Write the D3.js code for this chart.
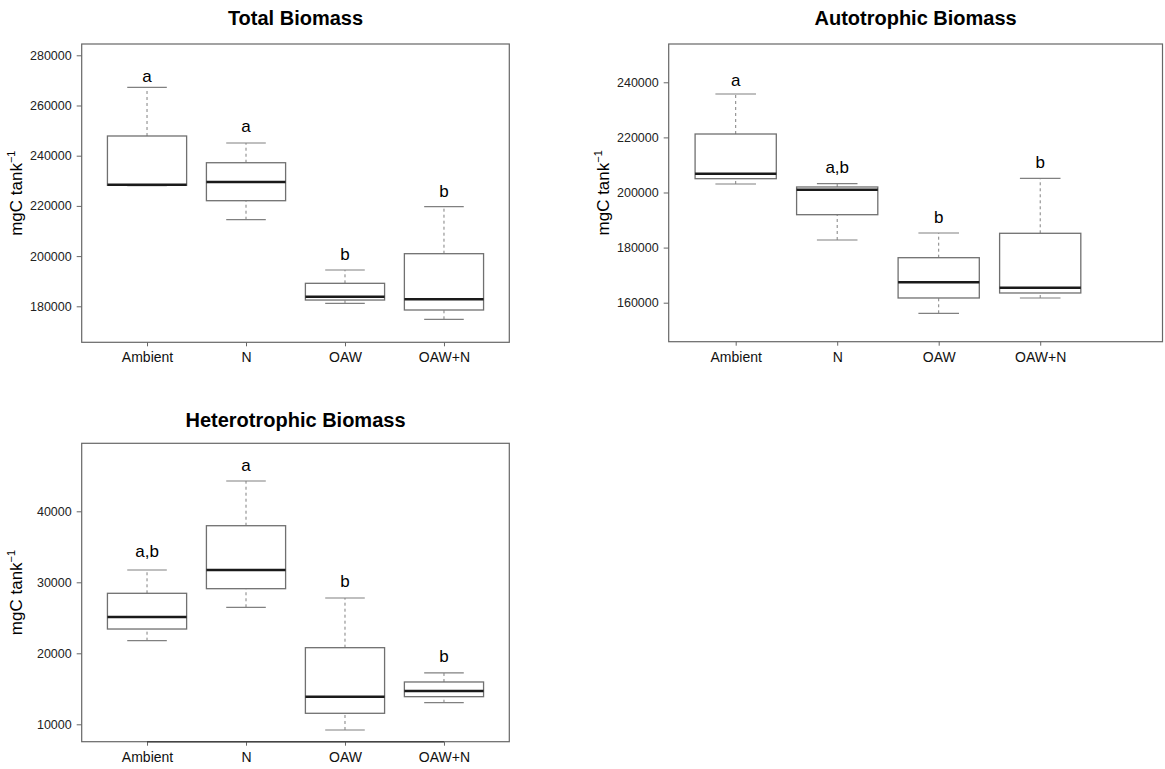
<!DOCTYPE html>
<html>
<head>
<meta charset="utf-8">
<script src="https://cdn.jsdelivr.net/npm/d3@7"></script>
<style>
  html, body { margin: 0; padding: 0; background: #fff; }
  svg { display: block; font-family: "Liberation Sans", Arial, Helvetica, sans-serif; }
</style>
</head>
<body>
<svg id="chart" width="1165" height="769"></svg>
<script>
// ---------------- DATA ----------------
const categories = ["Ambient", "N", "OAW", "OAW+N"];

// each row: [min, q1, median, q3, max]
const totalBiomass = [
  [228100, 228200, 228450, 247850, 267250],
  [214500, 222070, 229520, 237200, 245060],
  [181170, 182500, 183830, 189160, 194460],
  [174820, 178530, 182790, 200960, 219680]
];
const autotrophicBiomass = [
  [203090, 205010, 206820, 221230, 235750],
  [182760, 191940, 201020, 202000, 203190],
  [156150, 161710, 167400, 176330, 185300],
  [161710, 163520, 165450, 185190, 205150]
];
const heterotrophicBiomass = [
  [21780, 23420, 25110, 28450, 31730],
  [26480, 29100, 31730, 37970, 44270],
  [9200, 11550, 13890, 20790, 27790],
  [13040, 13890, 14690, 15960, 17230]
];

const totalLetters = ["a", "a", "b", "b"];
const totalLetterY = [269500, 249300, 198500, 223700];
const autoLetters = ["a", "a,b", "b", "b"];
const autoLetterY = [238800, 207200, 188800, 209000];
const heteroLetters = ["a,b", "a", "b", "b"];
const heteroLetterY = [33600, 45680, 29300, 18730];

const totalTicks = [180000, 200000, 220000, 240000, 260000, 280000];
const autoTicks = [160000, 180000, 200000, 220000, 240000];
const heteroTicks = [10000, 20000, 30000, 40000];

// ---------------- DRAW ----------------
const svg = d3.select("#chart");

const panels = [
  { title: "Total Biomass", data: totalBiomass, letters: totalLetters, letterY: totalLetterY,
    ticks: totalTicks, ydom: [165660, 284500],
    left: 81.7, right: 509.3, top: 44, bottom: 342.3, xRight: 509.3, titleY: 25, axisLine: false },
  { title: "Autotrophic Biomass", data: autotrophicBiomass, letters: autoLetters, letterY: autoLetterY,
    ticks: autoTicks, ydom: [145840, 253900],
    left: 668.7, right: 1162.5, top: 44, bottom: 341.7, xRight: 1107.2, titleY: 25, axisLine: false },
  { title: "Heterotrophic Biomass", data: heterotrophicBiomass, letters: heteroLetters, letterY: heteroLetterY,
    ticks: heteroTicks, ydom: [7549, 49577],
    left: 81.7, right: 509.3, top: 443.3, bottom: 741.7, xRight: 509.3, titleY: 427, axisLine: true }
];

const frameColor = "#666";
const boxColor = "#707070";
const whiskColor = "#808080";

panels.forEach(p => {
  const g = svg.append("g");
  const x = d3.scaleLinear().domain([0.34, 4.66]).range([p.left, p.xRight]);
  const y = d3.scaleLinear().domain(p.ydom).range([p.bottom, p.top]);
  const unit = x(2) - x(1);
  const bw = unit * 0.8, cw = unit * 0.4;

  // frame
  g.append("rect")
    .attr("x", p.left).attr("y", p.top)
    .attr("width", p.right - p.left).attr("height", p.bottom - p.top)
    .attr("fill", "none").attr("stroke", frameColor).attr("stroke-width", 1.2);

  // title
  g.append("text")
    .attr("x", (p.left + p.right) / 2).attr("y", p.titleY)
    .attr("text-anchor", "middle").attr("font-size", 20).attr("font-weight", "bold")
    .attr("fill", "#000").text(p.title);

  // y axis
  const yAxis = d3.axisLeft(y).tickValues(p.ticks).tickSize(5).tickPadding(5).tickFormat(d3.format("d"));
  const ya = g.append("g").attr("transform", `translate(${p.left},0)`).call(yAxis);
  ya.select(".domain").remove();
  ya.selectAll(".tick line").attr("stroke", frameColor);
  ya.selectAll(".tick text").attr("font-size", 12.5).attr("fill", "#222")
    .attr("font-family", "Liberation Sans, Arial, sans-serif");

  // y label
  const lx = p.left - 60, ly = (p.top + p.bottom) / 2;
  const lab = g.append("text")
    .attr("transform", `translate(${lx},${ly}) rotate(-90)`)
    .attr("text-anchor", "middle").attr("font-size", 17).attr("fill", "#000");
  lab.append("tspan").text("mgC tank");
  lab.append("tspan").attr("font-size", 11).attr("dy", -7).text("\u22121");

  // x axis
  const xAxis = d3.axisBottom(x).tickValues([1, 2, 3, 4]).tickSize(4).tickPadding(6)
    .tickFormat((d, i) => categories[i]);
  const xa = g.append("g").attr("transform", `translate(0,${p.bottom})`).call(xAxis);
  xa.select(".domain").remove();
  xa.selectAll(".tick line").attr("stroke", frameColor);
  xa.selectAll(".tick text").attr("font-size", 14).attr("fill", "#111")
    .attr("font-family", "Liberation Sans, Arial, sans-serif");
  if (p.axisLine) {
    g.append("line").attr("x1", x(1)).attr("x2", x(4))
      .attr("y1", p.bottom).attr("y2", p.bottom)
      .attr("stroke", "#444").attr("stroke-width", 1.4);
  }

  // boxes
  const bg = g.selectAll("g.box").data(p.data).join("g").attr("class", "box");
  // whiskers (dashed)
  bg.append("line")
    .attr("x1", (d, i) => x(i + 1)).attr("x2", (d, i) => x(i + 1))
    .attr("y1", d => y(d[3])).attr("y2", d => y(d[4]))
    .attr("stroke", whiskColor).attr("stroke-dasharray", "3,3").attr("stroke-width", 1);
  bg.append("line")
    .attr("x1", (d, i) => x(i + 1)).attr("x2", (d, i) => x(i + 1))
    .attr("y1", d => y(d[0])).attr("y2", d => y(d[1]))
    .attr("stroke", whiskColor).attr("stroke-dasharray", "3,3").attr("stroke-width", 1);
  // caps
  [0, 4].forEach(k => {
    bg.append("line")
      .attr("x1", (d, i) => x(i + 1) - cw / 2).attr("x2", (d, i) => x(i + 1) + cw / 2)
      .attr("y1", d => y(d[k])).attr("y2", d => y(d[k]))
      .attr("stroke", whiskColor).attr("stroke-width", 1.2);
  });
  // box
  bg.append("rect")
    .attr("x", (d, i) => x(i + 1) - bw / 2).attr("width", bw)
    .attr("y", d => y(d[3])).attr("height", d => y(d[1]) - y(d[3]))
    .attr("fill", "#fff").attr("stroke", boxColor).attr("stroke-width", 1.3);
  // median
  bg.append("line")
    .attr("x1", (d, i) => x(i + 1) - bw / 2).attr("x2", (d, i) => x(i + 1) + bw / 2)
    .attr("y1", d => y(d[2])).attr("y2", d => y(d[2]))
    .attr("stroke", "#1a1a1a").attr("stroke-width", 2.5);

  // significance letters
  g.selectAll("text.letter").data(p.letters).join("text").attr("class", "letter")
    .attr("x", (d, i) => x(i + 1)).attr("y", (d, i) => y(p.letterY[i]))
    .attr("text-anchor", "middle").attr("font-size", 17).attr("fill", "#000")
    .text(d => d);
});
</script>
</body>
</html>
